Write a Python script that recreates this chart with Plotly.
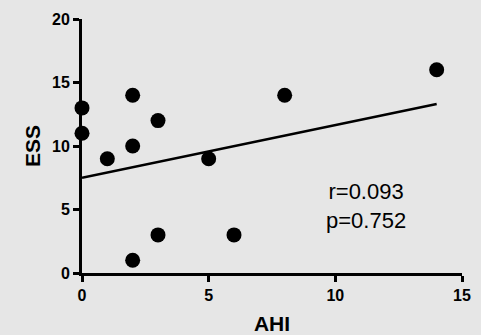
import plotly.graph_objects as go

ahi = [0, 0, 1, 2, 2, 2, 3, 3, 5, 6, 8, 14]
ess = [13, 11, 9, 14, 10, 1, 12, 3, 9, 3, 14, 16]
fit_x = [0, 14]
fit_y = [7.5, 13.3]
x_ticks = [0, 5, 10, 15]
y_ticks = [0, 5, 10, 15, 20]
stats_text = "r=0.093<br>p=0.752"

BG = "#e6e6e6"
FONT = "Liberation Sans, Arial, sans-serif"

fig = go.Figure()
fig.add_trace(go.Scatter(x=fit_x, y=fit_y, mode="lines",
                         line=dict(color="black", width=2.5), cliponaxis=False))
fig.add_trace(go.Scatter(x=ahi, y=ess, mode="markers",
                         marker=dict(color="black", size=15), cliponaxis=False))


def axis(rng, vals, title, standoff):
    return dict(range=rng, tickmode="array", tickvals=vals,
                ticktext=[f"<b>{v}</b>" for v in vals],
                showgrid=False, zeroline=False, showline=True, linecolor="black",
                linewidth=3, ticks="outside", ticklen=6, tickwidth=3, tickcolor="black",
                automargin=False,
                tickfont=dict(family=FONT, size=16, color="black", weight="bold"),
                title=dict(text=f"<b>{title}</b>", standoff=standoff,
                           font=dict(family=FONT, size=21, color="black")))


fig.update_layout(width=481, height=335, paper_bgcolor=BG, plot_bgcolor=BG,
                  margin=dict(l=82, r=19, t=19, b=62), showlegend=False,
                  xaxis=axis([0, 15], x_ticks, "AHI", 14),
                  yaxis=axis([0, 20], y_ticks, "ESS", 6))

fig.add_annotation(x=11.2, y=5.3, text=stats_text, showarrow=False,
                   font=dict(family=FONT, size=22, color="black"), align="center")

fig.write_html("out.html")
